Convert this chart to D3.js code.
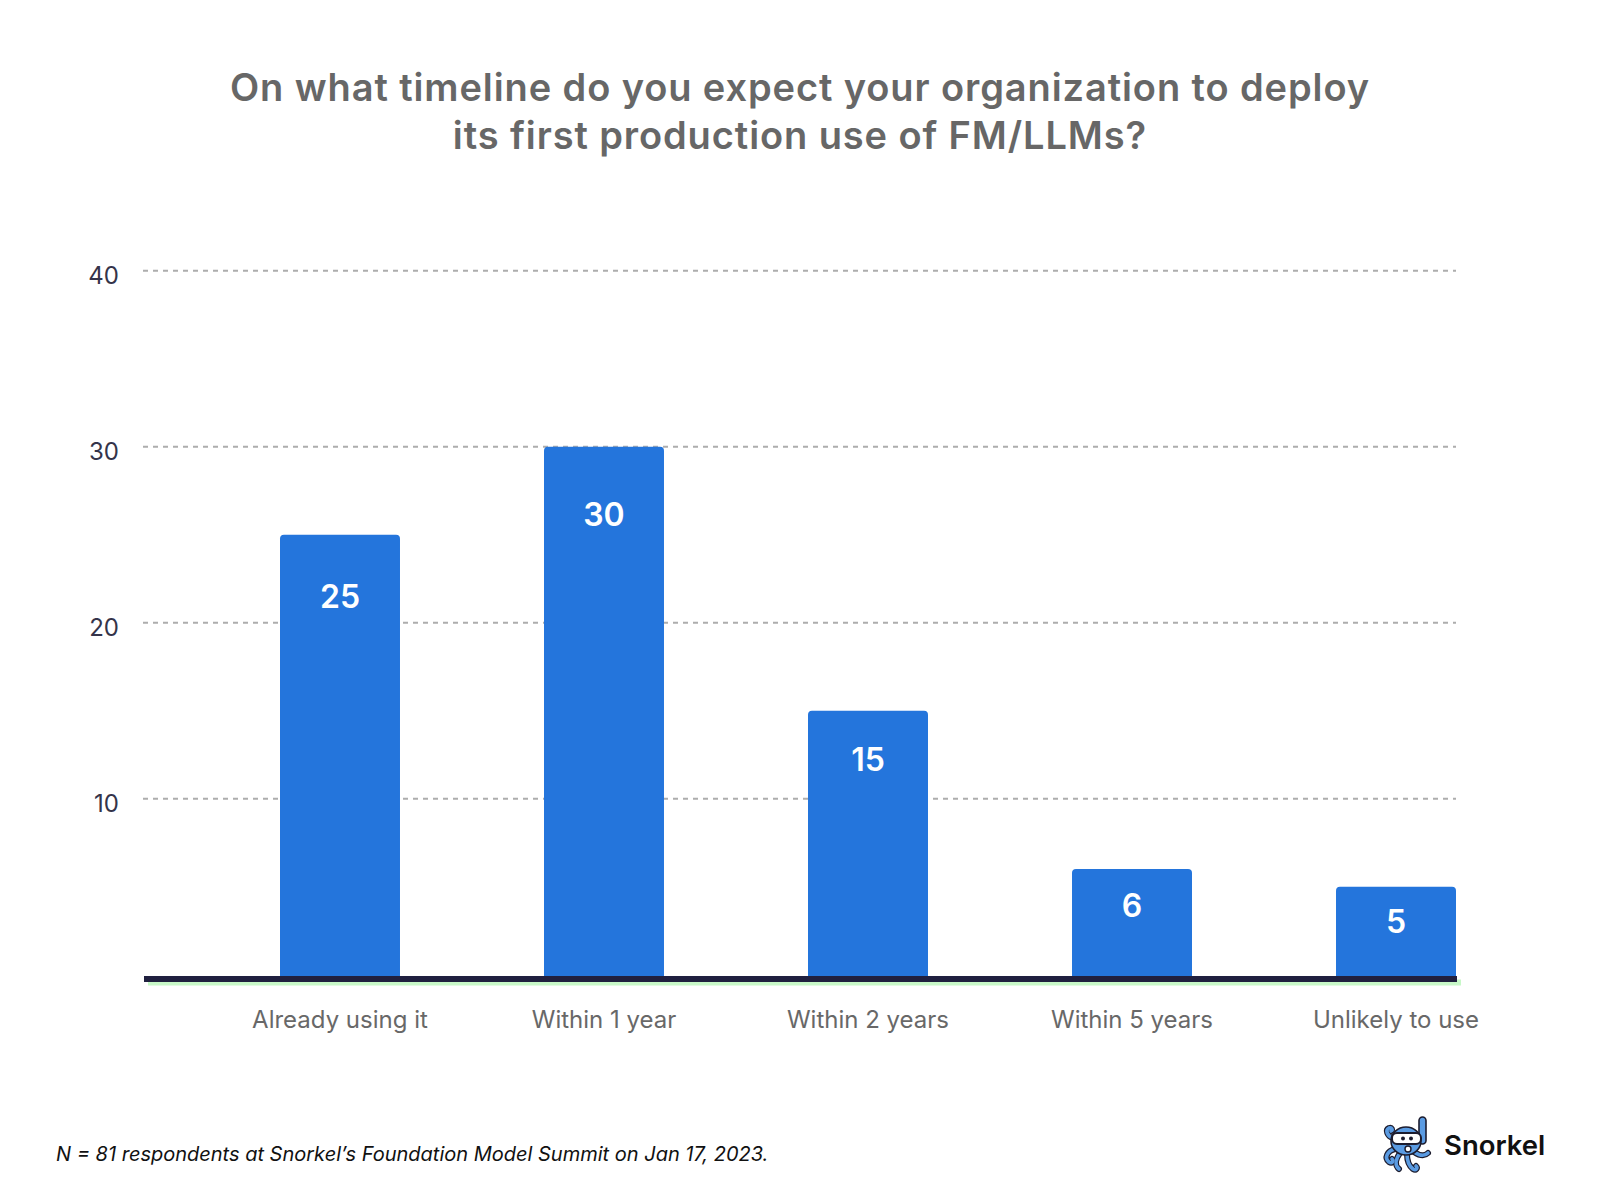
<!DOCTYPE html>
<html>
<head>
<meta charset="utf-8">
<script src="https://cdn.jsdelivr.net/npm/d3@7"></script>
<style>
  html, body { margin: 0; padding: 0; background: #ffffff; }
  svg { display: block; font-family: Inter, "Noto Sans", sans-serif; }
</style>
</head>
<body>
<svg id="chart" width="1600" height="1200"></svg>
<script>
// ---- Data ----
const categories = ["Already using it", "Within 1 year", "Within 2 years", "Within 5 years", "Unlikely to use"];
const values = [25, 30, 15, 6, 5];
const yTicks = [10, 20, 30, 40];
const titleLines = ["On what timeline do you expect your organization to deploy", "its first production use of FM/LLMs?"];
const footnote = "N = 81 respondents at Snorkel\u2019s Foundation Model Summit on Jan 17, 2023.";
const brand = "Snorkel";

// ---- Layout ----
const svg = d3.select("#chart");
const W = 1600, H = 1200;
const axisLeft = 143, axisRight = 1456;

svg.append("rect").attr("width", W).attr("height", H).attr("fill", "#ffffff");

const y = d3.scaleLinear().domain([0, 40]).range([974.7, 270.7]);
const x = d3.scaleBand().domain(categories).range([280, 1456]).paddingInner(0.5455).paddingOuter(0);

// Title
const title = svg.append("text")
  .attr("x", 800).attr("y", 101)
  .attr("text-anchor", "middle")
  .attr("fill", "#676767")
  .attr("font-size", 38)
  .attr("letter-spacing", 0.9)
  .attr("font-weight", 600);
titleLines.forEach((t, i) => {
  title.append("tspan").attr("x", 800).attr("dy", i === 0 ? 0 : 48).text(t);
});

// Gridlines
const grid = svg.append("g");
grid.selectAll("line").data(yTicks).join("line")
  .attr("x1", axisLeft).attr("x2", axisRight)
  .attr("y1", d => y(d)).attr("y2", d => y(d))
  .attr("stroke", "#adadad")
  .attr("stroke-width", 2)
  .attr("stroke-dasharray", "5,5");

// Y tick labels
svg.append("g").selectAll("text").data(yTicks).join("text")
  .attr("x", 119).attr("y", d => y(d) + 13)
  .attr("text-anchor", "end")
  .attr("fill", "#34344a")
  .attr("font-size", 24)
  .text(d => d);

// Bars (rounded top corners)
function barPath(x0, y0, w, h, r) {
  return `M${x0},${y0 + h} L${x0},${y0 + r} Q${x0},${y0} ${x0 + r},${y0} L${x0 + w - r},${y0} Q${x0 + w},${y0} ${x0 + w},${y0 + r} L${x0 + w},${y0 + h} Z`;
}
const data = categories.map((c, i) => ({ c, v: values[i] }));
svg.append("g").selectAll("path").data(data).join("path")
  .attr("d", d => barPath(x(d.c), y(d.v), x.bandwidth(), y(0) - y(d.v) + 2, 4))
  .attr("fill", "#2475dc");

// Value labels
svg.append("g").selectAll("text").data(data).join("text")
  .attr("x", d => x(d.c) + x.bandwidth() / 2)
  .attr("y", d => { const h = y(0) - y(d.v); return y(d.v) + 40 + 0.075 * h; })
  .attr("text-anchor", "middle")
  .attr("fill", "#ffffff")
  .attr("font-size", 32)
  .attr("font-weight", 600)
  .text(d => d.v);

// Axis baseline with green shadow
svg.append("rect").attr("x", axisLeft + 5).attr("y", 979.5).attr("width", axisRight - axisLeft).attr("height", 6)
  .attr("fill", "#c8f8c8");
svg.append("rect").attr("x", axisLeft + 1).attr("y", 976).attr("width", axisRight - axisLeft).attr("height", 6)
  .attr("fill", "#20203f");

// X labels
svg.append("g").selectAll("text").data(categories).join("text")
  .attr("x", d => x(d) + x.bandwidth() / 2)
  .attr("y", 1028)
  .attr("text-anchor", "middle")
  .attr("fill", "#686868")
  .attr("font-size", 24)
  .text(d => d);

// Footnote
svg.append("text")
  .attr("x", 56).attr("y", 1161)
  .attr("fill", "#111111")
  .attr("font-size", 20)
  .attr("font-style", "italic")
  .text(footnote);

// Logo
const logo = svg.append("g").attr("transform", "translate(1383,1116)");
const dark = "#1c1c2e", blue = "#5a9be2";
const tent = [
  "M12,33 C4,35 1,42 6,46 C9,48 11,45 9,43",
  "M17,37 C12,44 12,50 16,53",
  "M24,38 C24,45 26,50 30,53 C33,55 35,52 33,50",
  "M31,36 C37,40 42,40 45,37",
  "M10,22 C4,20 2,14 6,12 C9,11 10,14 8,15"
];
logo.selectAll("path.t").data(tent).join("path").attr("class", "t")
  .attr("d", d => d).attr("fill", "none").attr("stroke", dark).attr("stroke-width", 6).attr("stroke-linecap", "round");
logo.selectAll("path.t2").data(tent).join("path").attr("class", "t2")
  .attr("d", d => d).attr("fill", "none").attr("stroke", blue).attr("stroke-width", 3.6).attr("stroke-linecap", "round");
logo.append("rect").attr("x", 36).attr("y", 1).attr("width", 7).attr("height", 27).attr("rx", 3.5)
  .attr("fill", blue).attr("stroke", dark).attr("stroke-width", 1.6);
logo.append("ellipse").attr("cx", 23).attr("cy", 25).attr("rx", 15).attr("ry", 14)
  .attr("fill", blue).attr("stroke", dark).attr("stroke-width", 1.6);
logo.append("rect").attr("x", 9).attr("y", 17).attr("width", 29).attr("height", 11).attr("rx", 5)
  .attr("fill", "#ffffff").attr("stroke", dark).attr("stroke-width", 2);
logo.append("circle").attr("cx", 20).attr("cy", 22.5).attr("r", 2).attr("fill", dark);
logo.append("circle").attr("cx", 28).attr("cy", 22.5).attr("r", 2).attr("fill", dark);
logo.append("circle").attr("cx", 25).attr("cy", 33).attr("r", 3).attr("fill", "#ffffff").attr("stroke", dark).attr("stroke-width", 1.4);
svg.append("text")
  .attr("x", 1444).attr("y", 1155)
  .attr("fill", "#111111")
  .attr("font-size", 27.5)
  .attr("font-weight", 600)
  .text(brand);
</script>
</body>
</html>
